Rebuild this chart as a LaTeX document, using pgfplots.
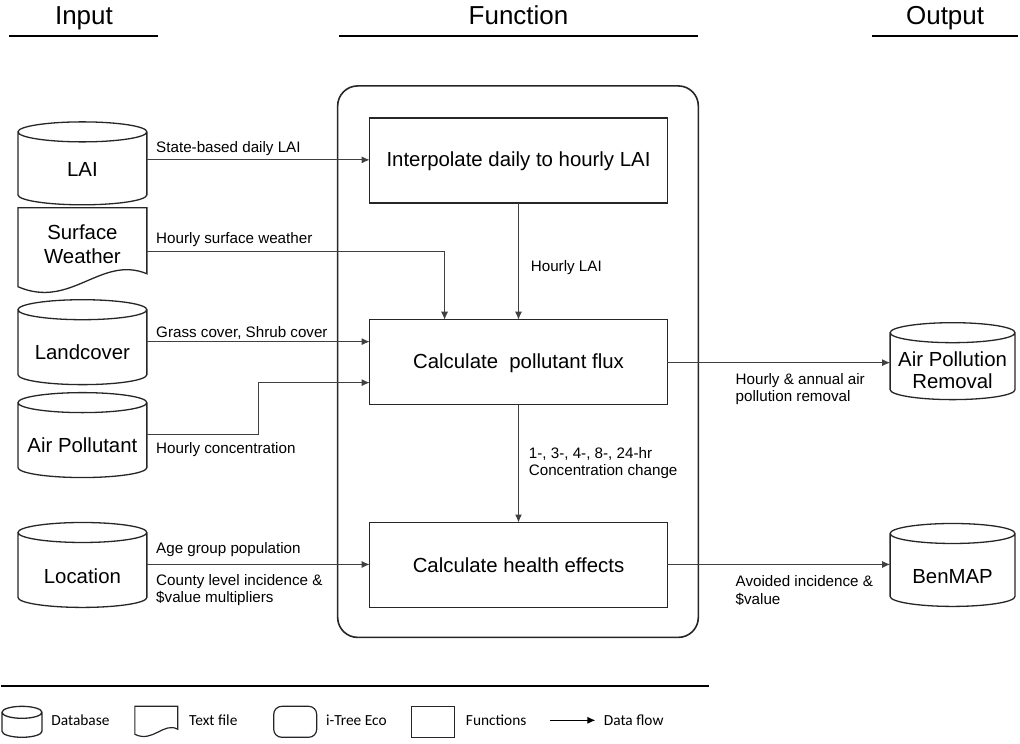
\documentclass[border=0pt]{standalone}
\usepackage{pgfplots}
\pgfplotsset{compat=1.18}
\usepackage{fontspec}
\setmainfont{Liberation Sans}
\newfontfamily\legfont{Carlito}
\usetikzlibrary{arrows.meta}
\definecolor{ln}{HTML}{404040}
\definecolor{bx}{HTML}{262626}
% cylinder: x-left, y-top (axis units), straight height, x radius, y radius
\newcommand{\cyl}[5]{\draw[bx, line width=0.65pt, fill=white] (axis cs:#1,#2) ++(0,-#5) -- ++(0,-#3) arc[start angle=180,end angle=360,x radius=#4,y radius=#5] -- ++(0,#3) arc[start angle=0,end angle=180,x radius=#4,y radius=#5] arc[start angle=180,end angle=360,x radius=#4,y radius=#5];}
\tikzset{
  lbl/.style={anchor=west, inner sep=0pt, font=\fontsize{7.6}{9}\selectfont},
  big/.style={inner sep=0pt, font=\fontsize{10.2}{12}\selectfont},
  hdr/.style={anchor=base, inner sep=0pt, font=\fontsize{13}{15}\selectfont},
  leg/.style={anchor=west, inner sep=0pt, font=\legfont\fontsize{7.7}{9}\selectfont},
  flow/.style={ln, line width=0.5pt, -{Latex[length=4pt,width=3.5pt]}},
}
\begin{document}
\begin{tikzpicture}
\begin{axis}[x=0.5pt, y=0.5pt, y dir=reverse, xmin=0, xmax=1020, ymin=0, ymax=741,
  hide axis, clip=false, scale only axis]
\path (axis cs:0,0) rectangle (axis cs:1020,741);
% headers
\node[hdr] at (axis cs:83,25) {Input};
\node[hdr] at (axis cs:518,25) {Function};
\node[hdr] at (axis cs:945,25) {Output};
\addplot[black, line width=0.8pt] coordinates {(8,36) (157,36)};
\addplot[black, line width=0.8pt] coordinates {(338,36) (698,36)};
\addplot[black, line width=0.8pt] coordinates {(872,36) (1018,36)};
% i-Tree Eco frame
\draw[bx, line width=0.8pt, rounded corners=10pt] (axis cs:337,86) rectangle (axis cs:698,638);
% function boxes
\draw[bx, line width=0.7pt] (axis cs:369,118) rectangle (axis cs:667,203);
\draw[bx, line width=0.7pt] (axis cs:369,320) rectangle (axis cs:667,405);
\draw[bx, line width=0.7pt] (axis cs:369,523) rectangle (axis cs:667,608);
\node[big] at (axis cs:518,161) {Interpolate daily to hourly LAI};
\node[big] at (axis cs:518,364) {Calculate\ \ pollutant flux};
\node[big] at (axis cs:518,566) {Calculate health effects};
% inputs
\cyl{17}{122}{31.5pt}{32.25pt}{5pt}
\node[big] at (axis cs:81.5,170) {LAI};
\draw[bx, line width=0.65pt, fill=white] (axis cs:17,208) -- (axis cs:146,208) -- (axis cs:146,274) .. controls (axis cs:100,255) and (axis cs:70,310) .. (axis cs:17,287) -- cycle;
\node[big] at (axis cs:81.5,232) {Surface};
\node[big] at (axis cs:81.5,256) {Weather};
\cyl{17}{300}{32.5pt}{32.25pt}{5pt}
\node[big] at (axis cs:81.5,353) {Landcover};
\cyl{17}{393}{32.5pt}{32.25pt}{5pt}
\node[big] at (axis cs:81.5,446) {Air Pollutant};
\cyl{17}{523}{32.5pt}{32.25pt}{5pt}
\node[big] at (axis cs:81.5,577) {Location};
% outputs
\cyl{890}{323}{28.5pt}{31.25pt}{5pt}
\node[big] at (axis cs:952.5,360) {Air Pollution};
\node[big] at (axis cs:952.5,382) {Removal};
\cyl{890}{524}{31.5pt}{31.25pt}{5pt}
\node[big] at (axis cs:952.5,577) {BenMAP};
% flows
\addplot[flow] coordinates {(146,160) (369,160)};
\addplot[flow] coordinates {(146,252) (444,252) (444,320)};
\addplot[flow] coordinates {(518,203) (518,320)};
\addplot[flow] coordinates {(146,342) (369,342)};
\addplot[flow] coordinates {(146,435) (258,435) (258,383) (369,383)};
\addplot[flow] coordinates {(518,405) (518,523)};
\addplot[flow] coordinates {(146,565) (369,565)};
\addplot[flow] coordinates {(667,363) (890,363)};
\addplot[flow] coordinates {(667,565) (890,565)};
% flow labels
\node[lbl] at (axis cs:155,149) {State-based daily LAI};
\node[lbl] at (axis cs:155,240) {Hourly surface weather};
\node[lbl] at (axis cs:155,333) {Grass cover, Shrub cover};
\node[lbl] at (axis cs:155,450) {Hourly concentration};
\node[lbl] at (axis cs:155,550) {Age group population};
\node[lbl] at (axis cs:155,582) {County level incidence \&};
\node[lbl] at (axis cs:155,599) {\$value multipliers};
\node[lbl] at (axis cs:530,268) {Hourly LAI};
\node[lbl] at (axis cs:528,454) {1-, 3-, 4-, 8-, 24-hr};
\node[lbl] at (axis cs:528,472) {Concentration change};
\node[lbl] at (axis cs:735,381) {Hourly \& annual air};
\node[lbl] at (axis cs:735,398) {pollution removal};
\node[lbl] at (axis cs:735,582) {Avoided incidence \&};
\node[lbl] at (axis cs:735,600) {\$value};
% legend
\addplot[black, line width=1pt] coordinates {(0,687) (709,687)};
\cyl{1}{707}{9.5pt}{10pt}{3pt}
\node[leg] at (axis cs:50,721) {Database};
\draw[bx, line width=0.6pt] (axis cs:134,707) -- (axis cs:177,707) -- (axis cs:177,730) .. controls (axis cs:163,722) and (axis cs:152,744) .. (axis cs:134,735) -- cycle;
\node[leg] at (axis cs:188,721) {Text file};
\draw[bx, line width=0.6pt, rounded corners=4pt] (axis cs:273,707) rectangle (axis cs:316,738);
\node[leg] at (axis cs:325,721) {i-Tree Eco};
\draw[bx, line width=0.6pt] (axis cs:411,707) rectangle (axis cs:454,738);
\node[leg] at (axis cs:465,721) {Functions};
\addplot[flow, black] coordinates {(550,721) (595,721)};
\node[leg] at (axis cs:603,721) {Data flow};
\end{axis}
\end{tikzpicture}
\end{document}
